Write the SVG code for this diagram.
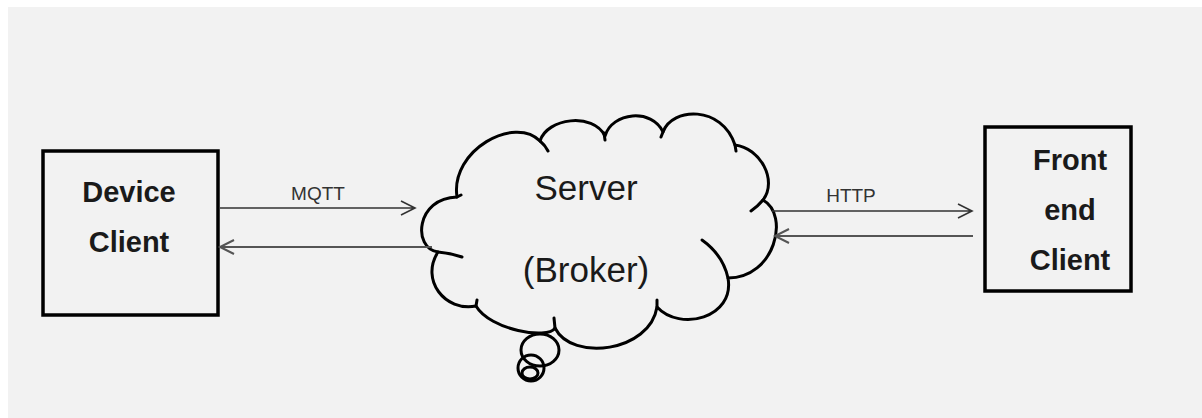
<svg xmlns="http://www.w3.org/2000/svg" width="1202" height="418" viewBox="0 0 1202 418">
<style>
.box{fill:none;stroke:#000;stroke-width:3.5}
.bt{font-family:"Liberation Sans",Arial,sans-serif;font-weight:bold;font-size:29px;fill:#1a1a1a;text-anchor:middle}
.st{font-family:"Liberation Sans",Arial,sans-serif;font-size:35px;fill:#1a1a1a;text-anchor:middle}
.lt{font-family:"Liberation Sans",Arial,sans-serif;font-size:19px;fill:#333;text-anchor:middle}
.cl{fill:none;stroke:#000;stroke-width:3;stroke-linecap:round;stroke-linejoin:round}
.ln{fill:none;stroke:#333;stroke-width:1.6}
.ln2{fill:none;stroke:#555;stroke-width:2}
</style>
<rect x="0" y="0" width="1202" height="418" fill="#ffffff"/>
<rect x="8" y="7" width="1194" height="411" fill="#f2f2f2"/>

<g id="device-client">
<rect class="box" x="43" y="151" width="175" height="164"/>
<text class="bt" x="129" y="202">Device</text>
<text class="bt" x="129" y="252">Client</text>
</g>

<g id="server">
<ellipse class="cl" cx="540" cy="350" rx="19" ry="16"/>
<ellipse class="cl" cx="531" cy="368" rx="13" ry="13"/>
<ellipse class="cl" cx="530" cy="373" rx="8" ry="6"/>
<path class="cl" style="fill:#f2f2f2" d="M457,197 C450,150 515,115 540,141 C547,118 593,112 605,136 C612,112 652,108 663,132 C672,107 722,105 735,145 C760,148 778,180 763,200 C790,215 775,278 728,278 C735,318 680,332 657,307 C650,352 572,362 555,328 C548,340 490,330 476,306 C445,312 420,280 438,252 C412,248 416,198 457,197 Z"/>
<path class="cl" d="M540,141 Q545,145 548,151 M604,133 L605,140 M663,132 L661,137 M735,145 L736,151 M763,200 Q758,206 751,211 M702,240 Q723,255 728,278 M657,307 L657,300 M555,328 L554,318 M476,306 L477,300 M438,252 Q450,253 462,257 M457,197 L461,195"/>
<text class="st" x="586" y="200">Server</text>
<text class="st" x="586" y="282">(Broker)</text>
</g>

<g id="frontend-client">
<rect class="box" x="985" y="127" width="146" height="164"/>
<text class="bt" x="1070" y="170">Front</text>
<text class="bt" x="1070" y="220">end</text>
<text class="bt" x="1070" y="270">Client</text>
</g>

<g id="connectors">
<path class="ln" d="M220,208 L415,208 M401,201 L415,208 L401,215"/>
<path class="ln2" d="M220,247 L432,247 M234,240 L220,247 L234,254"/>
<path class="ln" d="M772,211 L972,211 M958,204 L972,211 L958,218"/>
<path class="ln2" d="M775,236 L973,236 M789,229 L775,236 L789,243"/>
<text class="lt" x="318" y="200">MQTT</text>
<text class="lt" x="851" y="202">HTTP</text>
</g>
</svg>
